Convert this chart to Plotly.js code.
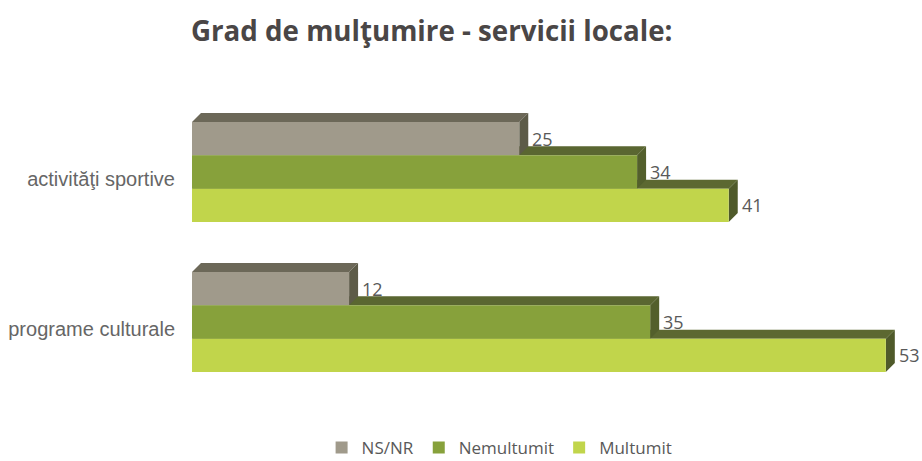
<!DOCTYPE html>
<html>
<head>
<meta charset="utf-8">
<script src="https://cdn.plot.ly/plotly-3.0.1.min.js"></script>
<style>html,body{margin:0;padding:0;background:#fff;}#chart{width:922px;height:461px;}</style>
</head>
<body>
<div id="chart"></div>
<script>
// ---- data ----
const categories = ["activităţi sportive", "programe culturale"];
const seriesNames = ["NS/NR", "Nemultumit", "Multumit"];
const nsnr = [25, 12];
const nemultumit = [34, 35];
const multumit = [41, 53];
const titleText = "Grad de mulţumire - servicii locale:";

// ---- styles ----
const frontColors = ["#a09a8b", "#87a13b", "#c1d54b"];
const topColors = ["#6c6858", "#5a6631", "#5c6831"];
const sideColors = ["#5d5b48", "#535f2c", "#4f5a2a"];

const W = 922, H = 461;
const margin = {l: 192, r: 10, t: 97, b: 64, autoexpand: false};
const xMax = 55;
const bargap = 0.333;
const depthX = 9, depthY = 9;

const plotW = W - margin.l - margin.r;
const plotH = H - margin.t - margin.b;
const dxd = depthX * xMax / plotW;
const dyd = depthY * 2 / plotH;
const bw = (1 - bargap) / 3;

const allSeries = [nsnr, nemultumit, multumit];
const catIdx = categories.map((c, j) => j);

const traces = allSeries.map((vals, i) => ({
  type: "bar",
  orientation: "h",
  name: seriesNames[i],
  x: vals,
  y: catIdx,
  marker: {color: frontColors[i]},
  hoverinfo: "skip"
}));

const shapes = [];
const annotations = [];
catIdx.forEach(j => {
  for (let i = allSeries.length - 1; i >= 0; i--) {
    const v = allSeries[i][j];
    const yc = j + (i - 1) * bw;
    const top = yc - bw / 2, bot = yc + bw / 2;
    shapes.push({
      type: "path", layer: "below", xref: "x", yref: "y",
      path: `M0,${top} L${v},${top} L${v + dxd},${top - dyd} L${dxd},${top - dyd} Z`,
      fillcolor: topColors[i], line: {width: 0}
    });
    shapes.push({
      type: "path", layer: "below", xref: "x", yref: "y",
      path: `M${v},${top} L${v + dxd},${top - dyd} L${v + dxd},${bot - dyd} L${v},${bot} Z`,
      fillcolor: sideColors[i], line: {width: 0}
    });
  }
  allSeries.forEach((vals, i) => {
    annotations.push({
      x: vals[j], y: j + (i - 1) * bw, xref: "x", yref: "y",
      text: String(vals[j]), showarrow: false, xanchor: "left", yanchor: "middle",
      xshift: 11, yshift: 0,
      font: {family: "Open Sans, sans-serif", size: 18, color: "#595959"}
    });
  });
});

const layout = {
  width: W, height: H,
  margin: margin,
  paper_bgcolor: "#ffffff", plot_bgcolor: "#ffffff",
  barmode: "group", bargap: bargap, bargroupgap: 0,
  title: {
    text: "<b>" + titleText + "</b>",
    x: 191 / W, xanchor: "left", xref: "container",
    y: 1 - 31 / H, yanchor: "middle", yref: "container",
    font: {family: "Open Sans, sans-serif", size: 27.7, color: "#4a4646"}
  },
  xaxis: {range: [0, xMax], visible: false, fixedrange: true},
  yaxis: {
    range: [1.5, -0.5], tickmode: "array", tickvals: catIdx, ticktext: categories,
    showgrid: false, zeroline: false, showline: false, ticks: "",
    ticklabelstandoff: 16, ticklabelshift: -7,
    tickfont: {family: "Liberation Sans, Arial, sans-serif", size: 20, color: "#666666"},
    fixedrange: true
  },
  showlegend: true,
  legend: {
    orientation: "h", x: 0.18, xanchor: "left", y: -0.17, yanchor: "middle",
    font: {family: "Open Sans, sans-serif", size: 17, color: "#595959"},
    traceorder: "normal", itemclick: false, itemdoubleclick: false
  },
  shapes: shapes,
  annotations: annotations
};

Plotly.newPlot("chart", traces, layout, {displayModeBar: false, staticPlot: true});
</script>
</body>
</html>
